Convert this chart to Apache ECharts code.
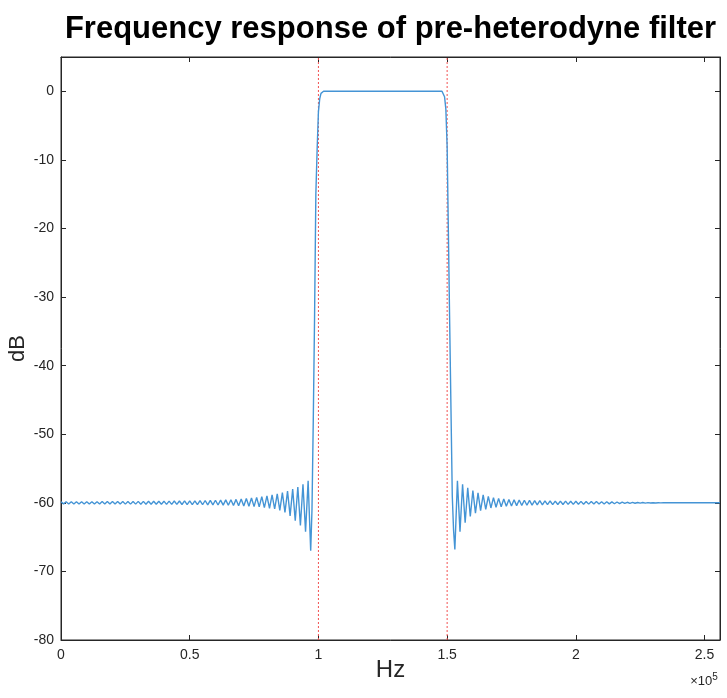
<!DOCTYPE html>
<html>
<head>
<meta charset="utf-8">
<script src="https://cdn.jsdelivr.net/npm/echarts@6/dist/echarts.min.js"></script>
<style>
  html, body { margin: 0; padding: 0; background: #ffffff; }
  #chart { width: 727px; height: 698px; }
</style>
</head>
<body>
<div id="chart"></div>
<script>
// ---------------- DATA ----------------
const titleText = 'Frequency response of pre-heterodyne filter';
const xName = 'Hz';
const yName = 'dB';

// Stopband below the passband: one value every 1 kHz starting at 0 Hz (0 .. 97 kHz), in dB
const stopStepHz = 1000;
const leftStopStartHz = 0;
const leftStopDb = [
  -59.85, -60.15, -59.85, -60.16, -59.84, -60.16, -59.84, -60.16, -59.84, -60.16,
  -59.83, -60.17, -59.83, -60.17, -59.83, -60.17, -59.82, -60.17, -59.82, -60.18,
  -59.82, -60.18, -59.81, -60.18, -59.81, -60.19, -59.80, -60.19, -59.80, -60.19,
  -59.79, -60.20, -59.79, -60.20, -59.78, -60.20, -59.78, -60.21, -59.77, -60.21,
  -59.76, -60.22, -59.75, -60.22, -59.74, -60.23, -59.73, -60.24, -59.72, -60.25,
  -59.71, -60.26, -59.70, -60.27, -59.68, -60.28, -59.66, -60.29, -59.64, -60.30,
  -59.62, -60.32, -59.60, -60.34, -59.57, -60.36, -59.54, -60.39, -59.50, -60.42,
  -59.44, -60.46, -59.38, -60.50, -59.30, -60.55, -59.20, -60.60, -59.10, -60.70,
  -59.00, -60.80, -58.85, -60.90, -58.70, -61.10, -58.50, -61.40, -58.30, -61.90,
  -58.00, -62.60, -57.70, -63.30, -57.30, -64.20, -56.80, -67.00
];

// Transition bands and passband (Hz, dB)
const bandHz = [
  97500, 98000, 98500, 99000, 99500, 100000, 100500, 101000, 101500, 102000,
  110000, 125000, 140000,
  148000, 148500, 149000, 149500, 150000, 150500, 151000, 151500, 152000, 152500
];
const bandDb = [
  -61.0, -48.0, -33.0, -15.0, -8.5, -3.0, -1.1, -0.3, -0.05, 0,
  0, 0, 0,
  0, -0.15, -0.8, -2.6, -8.0, -21.0, -34.0, -46.5, -59.0, -64.0
];

// Stopband above the passband: one value every 1 kHz starting at 153 kHz (153 .. 256 kHz), in dB
const rightStopStartHz = 153000;
const rightStopDb = [
  -66.80, -56.80, -64.20, -57.30, -62.90, -57.80, -62.00, -58.20, -61.50, -58.55,
  -61.15, -58.85, -60.95, -59.05, -60.75, -59.25, -60.65, -59.35, -60.57, -59.43,
  -60.50, -59.50, -60.45, -59.55, -60.41, -59.59, -60.38, -59.62, -60.35, -59.65,
  -60.33, -59.67, -60.31, -59.69, -60.29, -59.71, -60.27, -59.73, -60.26, -59.74,
  -60.25, -59.75, -60.24, -59.76, -60.23, -59.77, -60.22, -59.78, -60.21, -59.79,
  -60.20, -59.80, -60.19, -59.81, -60.18, -59.82, -60.17, -59.83, -60.16, -59.84,
  -60.15, -59.86, -60.13, -59.88, -60.11, -59.90, -60.09, -59.92, -60.07, -59.94,
  -60.06, -59.95, -60.05, -59.96, -60.04, -59.97, -60.03, -59.98, -60.02, -59.99,
  -60.01, -60.00, -60.00, -60.00, -60.00, -60.00, -60.00, -60.00, -60.00, -60.00,
  -60.00, -60.00, -60.00, -60.00, -60.00, -60.00, -60.00, -60.00, -60.00, -60.00,
  -60.00, -60.00, -60.00, -60.00
];

// Band edges (red dotted lines)
const edgeHz = [100000, 150000];

// Axes
const xMin = 0, xMax = 256000;
const yMin = -80, yMax = 5;
const xTicks = [0, 50000, 100000, 150000, 200000, 250000];
const yTicks = [-80, -70, -60, -50, -40, -30, -20, -10, 0];
const xExponent = 5;

// ---------------- BUILD ----------------
const seriesData = [];
leftStopDb.forEach((v, i) => seriesData.push([leftStopStartHz + i * stopStepHz, v]));
bandHz.forEach((f, i) => seriesData.push([f, bandDb[i]]));
rightStopDb.forEach((v, i) => seriesData.push([rightStopStartHz + i * stopStepHz, v]));

const axisColor = '#262626';
const font = 'Liberation Sans, Arial, Helvetica, sans-serif';
const scale = Math.pow(10, xExponent);

const G = { left: 61, right: 7, top: 57, bottom: 58 };
const plotCx = G.left + (727 - G.left - G.right) / 2;
const plotCy = G.top + (698 - G.top - G.bottom) / 2;

const chart = echarts.init(document.getElementById('chart'), null, { renderer: 'canvas' });

const baseX = {
  type: 'value', min: xMin, max: xMax,
  axisLine: { show: true, onZero: false, lineStyle: { color: axisColor, width: 1 } },
  splitLine: { show: false }
};
const baseY = {
  type: 'value', min: yMin, max: yMax,
  axisLine: { show: true, onZero: false, lineStyle: { color: axisColor, width: 1 } },
  splitLine: { show: false }
};

const edgeSeries = edgeHz.map(f => ({
  type: 'line',
  xAxisIndex: 0, yAxisIndex: 0,
  data: [[f, yMin], [f, yMax]],
  showSymbol: false,
  symbol: 'none',
  silent: true,
  lineStyle: { color: '#f25252', type: [2, 2], width: 1 },
  z: 2
}));

chart.setOption({
  animation: false,
  backgroundColor: '#ffffff',
  grid: { left: G.left, right: G.right, top: G.top, bottom: G.bottom, containLabel: false,
          show: true, borderColor: axisColor, borderWidth: 1, backgroundColor: 'transparent' },
  xAxis: [
    Object.assign({}, baseX, {
      position: 'bottom',
      axisTick: { show: true, inside: true, length: 5, customValues: xTicks, lineStyle: { color: axisColor } },
      axisLabel: { show: true, customValues: xTicks, color: axisColor, fontSize: 14, fontFamily: font, margin: 8,
                   formatter: v => String(Math.round(v / scale * 10) / 10) }
    }),
    Object.assign({}, baseX, {
      position: 'top',
      axisTick: { show: true, inside: true, length: 5, customValues: xTicks, lineStyle: { color: axisColor } },
      axisLabel: { show: false }
    })
  ],
  yAxis: [
    Object.assign({}, baseY, {
      position: 'left',
      axisTick: { show: true, inside: true, length: 5, customValues: yTicks, lineStyle: { color: axisColor } },
      axisLabel: { show: true, customValues: yTicks, color: axisColor, fontSize: 14, fontFamily: font, margin: 7 }
    }),
    Object.assign({}, baseY, {
      position: 'right',
      axisTick: { show: true, inside: true, length: 5, customValues: yTicks, lineStyle: { color: axisColor } },
      axisLabel: { show: false }
    })
  ],
  series: [
    {
      type: 'line',
      xAxisIndex: 0, yAxisIndex: 0,
      data: seriesData,
      showSymbol: false,
      symbol: 'none',
      smooth: false,
      lineStyle: { color: '#4494d5', width: 1.4 },
      z: 3
    }
  ].concat(edgeSeries),
  graphic: [
    { type: 'text', x: plotCx, y: 29, style: { text: titleText, fill: '#000', font: 'bold 31px ' + font, textAlign: 'center', textVerticalAlign: 'middle' } },
    { type: 'text', x: plotCx, y: 670, style: { text: xName, fill: axisColor, font: '24px ' + font, textAlign: 'center', textVerticalAlign: 'middle' } },
    { type: 'text', x: 18, y: plotCy, rotation: Math.PI / 2, style: { text: yName, fill: axisColor, font: '22px ' + font, textAlign: 'center', textVerticalAlign: 'middle' } },
    { type: 'text', x: 704, y: 681, style: { rich: { a: { fontSize: 13, fontFamily: font, fill: axisColor }, b: { fontSize: 10, fontFamily: font, fill: axisColor, verticalAlign: 'top', padding: [0,0,8,0] } },
      text: '{a|×10}{b|' + xExponent + '}', textAlign: 'center', textVerticalAlign: 'middle' } }
  ]
});
</script>
</body>
</html>
